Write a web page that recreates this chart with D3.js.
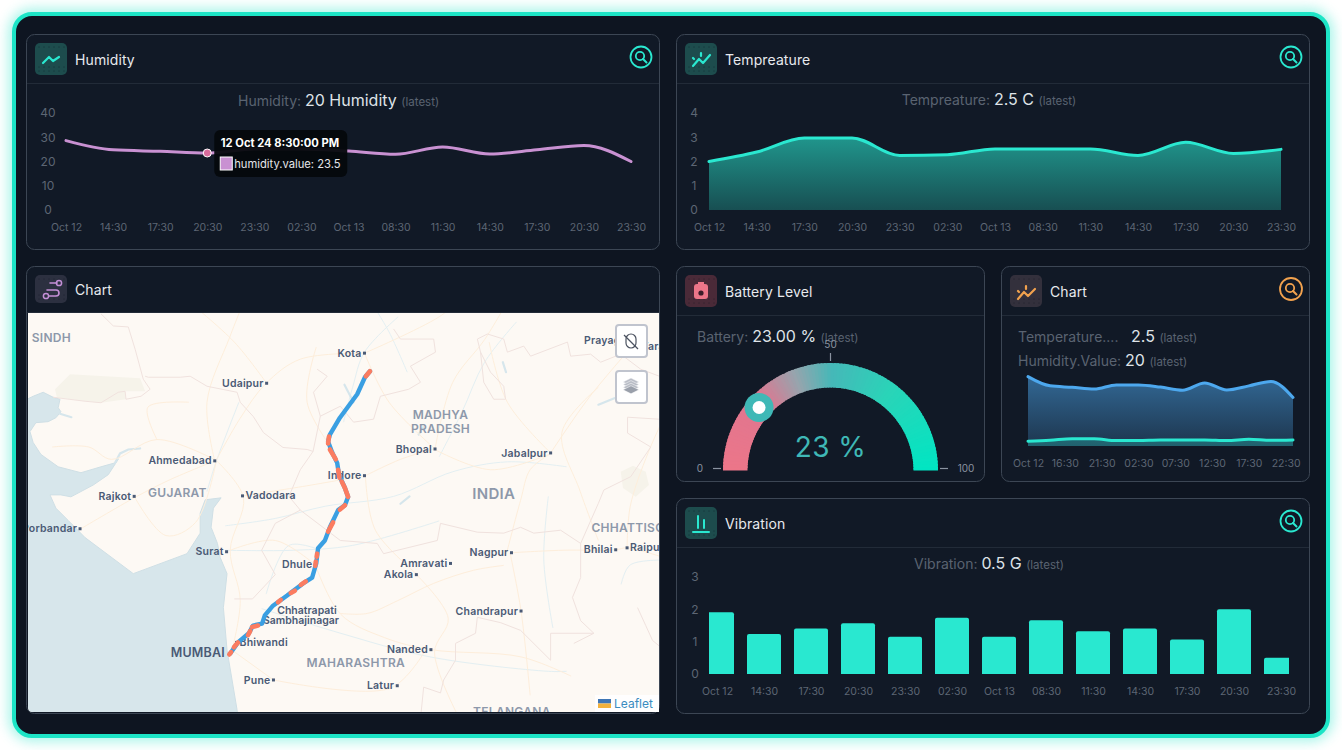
<!DOCTYPE html>
<html>
<head>
<meta charset="utf-8">
<script src="https://cdn.jsdelivr.net/npm/d3@7"></script>
<style>
  html, body { margin: 0; padding: 0; background: #fff; overflow: hidden; }
  #frame { position: absolute; left: 12px; top: 12px; width: 1310px; height: 718px; border: 4px solid #1ce5c6;
    border-radius: 20px; background: #0e1521; box-shadow: 0 0 12px 4px rgba(40,230,200,.38); }
  svg { position: absolute; left: 0; top: 0; font-family: Inter, "Noto Sans", sans-serif; }
</style>
</head>
<body>
<div id="frame"></div>
<svg id="page" width="1342" height="750"></svg>
<script>
'use strict';
// time axis shared by the three upper charts
const timeLabels = ["Oct 12", "14:30", "17:30", "20:30", "23:30", "02:30", "Oct 13", "08:30", "11:30", "14:30", "17:30", "20:30", "23:30"];
const hours = [0, 3, 6, 9, 12, 15, 18, 21, 24, 27, 30, 33, 36];
const humidity = [28.6, 24.8, 24.2, 23.5, 25.2, 25.2, 24.3, 23, 26, 23.1, 24.8, 26.6, 20];
const temperature = [2, 2.39, 2.97, 2.97, 2.25, 2.28, 2.52, 2.52, 2.52, 2.25, 2.79, 2.33, 2.5];
const vibration = [1.91, 1.24, 1.41, 1.57, 1.15, 1.74, 1.15, 1.66, 1.32, 1.41, 1.07, 2, 0.5];
const comboTickHours = [0, 5, 10, 15, 20, 25, 30, 35];
const comboTickLabels = ["Oct 12", "16:30", "21:30", "02:30", "07:30", "12:30", "17:30", "22:30"];
const batteryValue = 23;

// map: everything is lon/lat, drawn through the mercator projection below
const seaCoast = [[68.2,24.15],[68.58,24.32],[68.80,24.40],[69.02,24.30],[69.17,24.26],[69.13,24.09],[69.19,24.01],[69.08,23.89],[68.91,23.81],[68.64,23.79],[68.51,23.61],[68.58,23.39],[68.75,23.15],[69.13,22.90],[69.63,22.78],[70.07,22.90],[70.38,22.98],[70.45,23.05],[70.23,22.74],[69.90,22.53],[69.41,22.29],[69.19,22.33],[68.95,22.33],[69.08,22.06],[69.35,21.81],[69.72,21.46],[70.78,20.72],[71.96,21.13],[72.25,21.55],[72.25,21.96],[72.36,22.23],[72.71,22.27],[72.54,22.06],[72.49,21.67],[72.63,21.34],[72.69,21.05],[72.84,20.72],[72.76,20.02],[72.84,19.14],[73.06,17.90],[73.1,17.5],[68.2,17.5]];
const beigeAreas = [
  [[69.06,24.46],[69.39,24.76],[70.93,24.68],[71.04,24.42],[70.6,24.42],[70.62,24.26],[70.07,24.19],[69.72,24.22],[69.10,24.30]],
  [[81.49,22.80],[81.76,22.92],[82.04,22.80],[82.11,22.53],[81.82,22.29],[81.54,22.47]]
];
const borders = [
  [[70.07,25.96],[70.34,25.72],[70.67,25.70],[70.82,25.26],[71.0,24.66],[71.15,24.46],[70.95,24.32],[70.62,24.26],[70.6,24.42],[70.45,24.40],[70.07,24.19],[69.72,24.22],[69.02,24.30]],
  [[71.04,24.72],[71.11,24.70],[71.81,24.70],[72.03,24.72],[72.40,24.52],[73.06,24.40],[73.13,24.20],[73.42,23.91],[73.64,23.59],[74.07,23.29],[74.60,23.25],[74.73,23.21],[74.45,22.84],[74.2,22.3],[74.45,22.02],[75.33,21.40],[76.14,21.34],[76.28,21.13],[77.46,21.40],[77.53,21.75],[78.34,21.57],[78.92,21.55],[79.29,21.67],[79.58,21.55],[80.17,21.61],[80.61,21.34],[80.61,20.64],[80.43,20.23],[80.61,19.75],[80.90,19.49],[80.46,19.28]],
  [[80.90,19.49],[79.95,19.49],[79.95,18.93],[79.29,19.55],[78.85,19.71],[78.34,19.82],[78.30,19.49],[77.86,19.28],[77.86,18.93],[77.60,18.52],[77.53,18.25],[77.16,18.37],[77.09,17.7]],
  [[74.45,22.02],[73.9,21.75],[73.6,21.2],[73.9,20.7],[73.4,20.2],[73.0,20.2]],
  [[80.61,21.34],[81.0,22.16],[81.12,22.43],[81.71,22.70],[82.15,23.30],[81.64,23.58],[81.64,23.90],[82.5,23.85]],
  [[81.86,20.02],[82.04,19.65],[82.19,19.34],[82.5,19.1]],
  [[78.34,25.46],[78.56,25.56],[78.92,25.46],[79.0,25.20],[79.36,25.32],[79.51,25.12],[80.32,25.40],[80.39,25.12],[80.83,25.16],[81.05,25.0],[81.49,25.16],[81.93,24.86],[82.4,24.7]],
  [[78.34,25.46],[78.41,25.20],[78.63,24.80],[78.92,24.52],[78.96,24.26],[78.70,24.26],[78.48,24.60],[78.41,25.20]],
  [[76.50,25.66],[76.65,25.46],[77.38,25.46],[77.42,25.20],[76.87,24.92],[77.09,24.60],[76.83,24.46],[76.21,24.32],[76.06,23.86],[75.62,23.80],[75.33,24.12],[74.89,23.92],[74.74,24.40],[75.04,24.72],[74.82,24.86]],
  [[74.89,23.92],[74.73,23.21]]
];
const roads = [
  [[75.33,19.90],[75.92,19.90],[76.58,20.16],[77.38,20.52],[78.26,20.79],[78.92,20.89]],
  [[78.98,21.13],[79.29,22.22],[79.50,22.84],[79.91,23.14]],
  [[72.60,23.03],[73.20,22.28],[72.91,21.20],[73.13,20.17],[72.95,19.14]],
  [[72.60,23.03],[73.13,23.88],[73.70,24.58],[74.45,25.06],[75.86,25.18]],
  [[72.60,23.03],[71.59,22.64],[70.84,22.29],[69.61,21.63]],
  [[77.38,23.26],[76.65,23.05],[75.88,22.72]],
  [[77.38,23.26],[78.63,22.84],[79.91,23.15]],
  [[75.88,22.72],[76.10,21.61],[77.05,20.68]],
  [[73.86,18.52],[72.95,19.14]],
  [[73.86,18.52],[76.43,18.35],[77.20,19.14]],
  [[79.06,21.14],[79.30,19.95],[79.5,18.2]],
  [[79.09,21.15],[80.2,21.2],[81.38,21.21],[81.63,21.25],[82.6,21.0]],
  [[81.63,21.25],[81.7,22.1],[82.1,23.2],[82.6,24.2]],
  [[79.95,23.18],[80.8,24.3],[81.85,25.43]],
  [[75.86,25.18],[77.5,25.9],[78.18,26.4]],
  [[77.41,23.26],[77.8,24.6],[78.5,25.45],[79.0,26.2]],
  [[74.78,20.90],[75.34,19.88],[76.3,19.4],[77.32,19.15],[79.3,19.0],[80.4,18.6]],
  [[73.71,24.58],[73.0,25.4],[72.0,26.2]],
  [[72.57,23.02],[72.4,24.2],[72.9,25.5],[73.3,26.4]],
  [[73.18,22.31],[74.5,22.5],[75.86,22.72]],
  [[70.80,22.30],[71.5,21.5],[72.15,21.77],[72.6,23.0]],
  [[75.86,25.18],[76.4,24.2],[77.41,23.26]],
  [[74.78,20.90],[73.9,21.4],[72.91,21.20]],
  [[79.95,23.18],[79.0,24.2],[78.6,25.4]],
  [[81.0,24.5],[80.2,23.6],[80.6,22.4],[81.0,21.4]],
  [[77.0,20.7],[77.7,19.8],[77.4,19.1],[77.9,17.8]],
  [[74.8,25.3],[74.6,24.2],[75.2,23.2]],
  [[69.0,23.3],[69.8,23.3],[70.3,23.05],[71.3,23.45],[72.6,23.03]],
  [[71.3,23.45],[71.1,24.1],[72.0,24.2]]
];
const rivers = [
  [[72.8,21.7],[73.9,21.85],[75.0,22.1],[76.5,22.3],[77.8,22.8],[79.0,23.0],[80.3,22.9]],
  [[75.4,23.8],[75.6,24.5],[75.86,25.2],[76.6,25.9]],
  [[72.8,21.2],[74.3,21.2],[75.6,21.3],[77.5,21.8]],
  [[73.6,20.0],[75.3,19.5],[77.3,19.0],[79.9,18.7],[80.3,18.7]],
  [[77.5,23.1],[78.0,24],[78.5,25.0],[79.2,25.8]],
  [[82.6,21.0],[81.7,20.9],[81.5,20.5]],
  [[79.9,22.3],[79.8,21.0],[80.0,19.6]],
  [[72.4,22.4],[72.6,23.0],[73.1,24.2]],
  [[76.8,24.8],[76.4,25.6],[76.0,26.2]],
  [[73.7,20.3],[74.2,21.3],[74.9,21.2]]
];
const lakes = [
  [[81.0,24.15],[81.35,24.28]],
  [[75.42,24.55],[75.62,24.2]],
  [[77.05,23.55],[77.15,23.7]],
  [[78.9,25.0],[78.97,24.8]],
  [[69.17,23.97],[69.42,23.9]],
  [[70.38,22.98],[70.49,23.17],[70.67,23.25],[70.93,23.27]],
  [[76.65,22.15],[76.85,22.3]]
];
const route = [[75.98,24.82],[75.87,24.70],[75.70,24.36],[75.32,23.89],[75.10,23.55],[75.06,23.41],[75.15,23.19],[75.26,22.98],[75.30,22.74],[75.43,22.47],[75.50,22.29],[75.43,22.12],[75.28,22.02],[75.10,21.67],[74.99,21.40],[74.84,21.24],[74.80,20.93],[74.71,20.64],[74.51,20.52],[74.16,20.27],[73.85,20.06],[73.67,19.86],[73.61,19.69],[73.41,19.65],[73.32,19.49],[73.08,19.30],[72.91,19.07]];
const routeAlerts = [
  [[75.98,24.82],[75.89,24.72]], [[75.08,23.51],[75.06,23.37]], [[75.10,23.25],[75.23,23.05]],
  [[75.28,22.84],[75.31,22.68]], [[75.36,22.60],[75.43,22.47],[75.50,22.29]], [[75.43,22.12],[75.32,22.03]],
  [[75.17,21.77],[75.06,21.58]], [[74.82,21.13],[74.81,21.07]], [[74.79,20.97],[74.78,20.88]],
  [[74.57,20.56],[74.46,20.49]], [[74.33,20.37],[74.24,20.32]], [[74.02,20.18],[73.96,20.13]],
  [[73.52,19.65],[73.39,19.62]], [[73.35,19.54],[73.30,19.45]], [[73.08,19.30],[72.99,19.20]], [[72.93,19.10],[72.89,19.05]]
];
const cities = [
  ["Kota",75.86,25.18,"l"],["Udaipur",73.71,24.58,"l"],["Ahmedabad",72.57,23.02,"l"],["Rajkot",70.80,22.30,"l"],
  ["Vadodara",73.18,22.31,"r"],["Porbandar",69.61,21.64,"l"],["Surat",72.83,21.17,"l"],["Dhule",74.78,20.90,"l"],
  ["Bhiwandi",73.05,19.30,"r"],["Pune",73.86,18.52,"l"],["Nanded",77.32,19.15,"l"],["Latur",76.58,18.40,"l"],
  ["Akola",77.00,20.70,"l"],["Amravati",77.75,20.93,"l"],["Nagpur",79.09,21.15,"l"],["Chandrapur",79.30,19.95,"l"],
  ["Bhilai",81.38,21.21,"l"],["Raipur",81.63,21.25,"r"],["Jabalpur",79.95,23.18,"l"],["Bhopal",77.41,23.26,"l"],
  ["Indore",75.86,22.72,"l"],["Prayagraj",81.85,25.43,"l"],["Varanasi",83.0,25.32,"l"]
];
const regions = [
  ["SINDH",68.98,25.40],["GUJARAT",71.75,22.29],["INDIA",78.7,22.25],["MADHYA",77.53,23.87],["PRADESH",77.53,23.59],
  ["MAHARASHTRA",75.67,18.79],["CHHATTISG",81.65,21.58],["TELANGANA",79.1,17.76]
];

const svg = d3.select("#page");
const defs = svg.append("defs");
const axisColor = "#5d6674";

function vGradient(id, c, from, to) {
  const g = defs.append("linearGradient").attr("id", id).attr("x1", 0).attr("x2", 0).attr("y1", 0).attr("y2", 1);
  g.append("stop").attr("offset", "0").attr("stop-color", c).attr("stop-opacity", from);
  g.append("stop").attr("offset", "1").attr("stop-color", c).attr("stop-opacity", to);
}
vGradient("tealFill", "#2ae8d0", 0.6, 0.26);
vGradient("blueFill", "#4da8ee", 0.55, 0.2);

function card(x, y, w, h, headerH, title, iconFill, iconH) {
  svg.append("rect").attr("x", x + .5).attr("y", y + .5).attr("width", w).attr("height", h).attr("rx", 8)
    .attr("fill", "#111926").attr("stroke", "#3c4654");
  svg.append("line").attr("x1", x + 1).attr("x2", x + w).attr("y1", y + headerH + .5).attr("y2", y + headerH + .5).attr("stroke", "#222b38");
  svg.append("rect").attr("x", x + 9).attr("y", y + 9).attr("width", 32).attr("height", iconH || 32).attr("rx", 5).attr("fill", iconFill);
  // dotted texture of the icon tiles
  d3.range(6).forEach(i => [4, (iconH || 32) - 8, (iconH || 32) - 4].forEach(dy => {
    svg.append("circle").attr("cx", x + 13 + i * 5).attr("cy", y + 9 + dy).attr("r", .5).attr("fill", "#0e1521").attr("fill-opacity", .7);
  }));
  svg.append("text").attr("x", x + 49).attr("y", y + 31 - (iconH ? 2 : 0)).attr("fill", "#e8eaee")
    .attr("font-size", 14).attr("font-weight", 400).attr("letter-spacing", .1).text(title);
}

function searchIcon(cx, cy, color, r) {
  const g = svg.append("g").attr("fill", "none").attr("stroke", color);
  g.append("circle").attr("cx", cx).attr("cy", cy).attr("r", r).attr("stroke-width", 1.8);
  g.append("circle").attr("cx", cx - 1).attr("cy", cy - 1).attr("r", 4.2).attr("stroke-width", 1.8);
  g.append("line").attr("x1", cx + 2).attr("y1", cy + 2).attr("x2", cx + 5.5).attr("y2", cy + 5.5).attr("stroke-width", 2).attr("stroke-linecap", "round");
}

function summary(x, y, anchor, label, value, suffix) {
  const t = svg.append("text").attr("x", x).attr("y", y).attr("text-anchor", anchor);
  t.append("tspan").attr("fill", "#5a6371").attr("font-size", 14).text(label + " ");
  t.append("tspan").attr("fill", "#dfe3e8").attr("font-size", 16).text(value + " ");
  t.append("tspan").attr("fill", "#5a6371").attr("font-size", 11.5).text(suffix);
}

function bottomAxis(scale, values, labels, y) {
  const axis = d3.axisBottom(scale).tickValues(values).tickSize(0).tickPadding(0).tickFormat((d, i) => labels[i]);
  const g = svg.append("g").attr("transform", `translate(0,${y})`).call(axis);
  g.select(".domain").remove();
  g.selectAll("text").attr("fill", axisColor).attr("font-size", 10.5).attr("font-family", "Inter").attr("dy", 0).attr("y", 0);
}

function leftAxis(scale, ticks, x) {
  const axis = d3.axisLeft(scale).tickValues(ticks).tickSize(0).tickPadding(0).tickFormat(d3.format("d"));
  const g = svg.append("g").attr("transform", `translate(${x},0)`).call(axis);
  g.select(".domain").remove();
  g.selectAll("text").attr("fill", axisColor).attr("font-size", 12).attr("font-family", "Inter").attr("text-anchor", "middle");
}

/* ---------- frame of cards ---------- */
card(26, 34, 633, 215, 49, "Humidity", "#1d4c4d");
card(676, 34, 633, 215, 49, "Tempreature", "#1d4c4d");
card(26, 266, 633, 447, 46, "Chart", "#2c3040", 28);
card(676, 266, 308, 215, 49, "Battery Level", "#4a2a38");
card(1001, 266, 308, 215, 49, "Chart", "#33303c");
card(676, 498, 633, 215, 49, "Vibration", "#1d4c4d");
searchIcon(641, 57, "#2ae8d0", 10.5);
searchIcon(1291, 57, "#2ae8d0", 10.5);
searchIcon(1291, 289, "#f2a24e", 11);
searchIcon(1291, 521, "#2ae8d0", 10.5);

// header glyphs
const glyph = (d, color, w) => svg.append("path").attr("d", d).attr("fill", "none").attr("stroke", color)
  .attr("stroke-width", w || 2).attr("stroke-linecap", "round").attr("stroke-linejoin", "round");
glyph("M43 63 L49 57 L53 61 L59 57", "#2ae8d0", 2.2);
glyph("M693 66 L699 59 L703 63 L710 55 M693 58 L694 59 M701 53 L701 56", "#2ae8d0", 2.2);
glyph("M693 532 H709 M698 516 V528 M704 520 V528", "#2ae8d0");
glyph("M1018 299 L1024 292 L1028 296 L1035 289 M1018 291 L1019 292 M1026 286 L1026 289", "#f2a24e", 2.2);
glyph("M50 283 H57 M47 290 H56 a3 3 0 0 1 0 6 H49", "#c48fd6", 1.6);
svg.append("circle").attr("cx", 59).attr("cy", 283).attr("r", 2.6).attr("fill", "none").attr("stroke", "#c48fd6").attr("stroke-width", 1.5);
svg.append("circle").attr("cx", 46).attr("cy", 296).attr("r", 2.6).attr("fill", "none").attr("stroke", "#c48fd6").attr("stroke-width", 1.5);
svg.append("rect").attr("x", 694).attr("y", 284).attr("width", 14).attr("height", 15).attr("rx", 3).attr("fill", "#ec7689");
svg.append("rect").attr("x", 698).attr("y", 282).attr("width", 6).attr("height", 3).attr("fill", "#ec7689");
svg.append("circle").attr("cx", 701).attr("cy", 293).attr("r", 2.6).attr("fill", "#3a1c28");

/* ---------- humidity ---------- */
const xHum = d3.scalePoint().domain(d3.range(hours.length)).range([66, 631]);
const yHum = d3.scaleLinear().domain([0, 40]).range([210, 113]);
summary(338.6, 106, "middle", "Humidity:", "20 Humidity", "(latest)");
leftAxis(yHum, [0, 10, 20, 30, 40], 48);
bottomAxis(xHum, d3.range(hours.length), timeLabels, 231);
svg.append("path").datum(humidity)
  .attr("d", d3.line().x((d, i) => xHum(i)).y(d => yHum(d)).curve(d3.curveMonotoneX))
  .attr("fill", "none").attr("stroke", "#c991d2").attr("stroke-width", 3).attr("stroke-linecap", "round");
svg.append("circle").attr("cx", xHum(3)).attr("cy", yHum(humidity[3])).attr("r", 4)
  .attr("fill", "#d96b9c").attr("stroke", "#fff").attr("stroke-width", 1);
// tooltip on the 20:30 point
const tip = svg.append("g").attr("transform", `translate(${xHum(3) + 7},130)`);
tip.append("rect").attr("width", 133).attr("height", 47).attr("rx", 6).attr("fill", "#05080c").attr("fill-opacity", .95);
tip.append("text").attr("x", 6.5).attr("y", 17).attr("fill", "#fff").attr("font-size", 11.2).attr("font-weight", 700).text("12 Oct 24 8:30:00 PM");
tip.append("rect").attr("x", 6).attr("y", 27).attr("width", 12).attr("height", 13).attr("fill", "#c991d2").attr("stroke", "#fff").attr("stroke-width", 1);
tip.append("text").attr("x", 20).attr("y", 38).attr("fill", "#e4e6e9").attr("font-size", 11.2).text("humidity.value: 23.5");

/* ---------- temperature ---------- */
const xTemp = d3.scalePoint().domain(d3.range(hours.length)).range([709, 1281]);
const yTemp = d3.scaleLinear().domain([0, 4]).range([210, 113]);
summary(989, 105, "middle", "Tempreature:", "2.5 C", "(latest)");
leftAxis(yTemp, [0, 1, 2, 3, 4], 694);
bottomAxis(xTemp, d3.range(hours.length), timeLabels, 231);
svg.append("path").datum(temperature)
  .attr("d", d3.area().x((d, i) => xTemp(i)).y0(yTemp(0)).y1(d => yTemp(d)).curve(d3.curveMonotoneX))
  .attr("fill", "url(#tealFill)");
svg.append("path").datum(temperature)
  .attr("d", d3.line().x((d, i) => xTemp(i)).y(d => yTemp(d)).curve(d3.curveMonotoneX))
  .attr("fill", "none").attr("stroke", "#2ae8d0").attr("stroke-width", 3).attr("stroke-linecap", "round");

/* ---------- combined chart ---------- */
const xCombo = d3.scaleLinear().domain([0, 36]).range([1028, 1293]);
const yCombo = d3.scaleLinear().domain([0, 40]).range([446, 349]);
summary(1018, 342, "start", "Temperature....", "", "");
summary(1131, 342, "start", "", "2.5", "(latest)");
summary(1018, 366, "start", "Humidity.Value:", "20", "(latest)");
bottomAxis(xCombo, comboTickHours, comboTickLabels, 467);
svg.append("path").datum(humidity)
  .attr("d", d3.area().x((d, i) => xCombo(hours[i])).y0(yCombo(0)).y1(d => yCombo(d)).curve(d3.curveMonotoneX))
  .attr("fill", "url(#blueFill)");
svg.append("path").datum(temperature)
  .attr("d", d3.area().x((d, i) => xCombo(hours[i])).y0(yCombo(0)).y1(d => yCombo(d)).curve(d3.curveMonotoneX))
  .attr("fill", "#2ae8d0").attr("fill-opacity", .25);
[[humidity, "#4da8ee"], [temperature, "#2ae8d0"]].forEach(([values, color]) => {
  svg.append("path").datum(values)
    .attr("d", d3.line().x((d, i) => xCombo(hours[i])).y(d => yCombo(d)).curve(d3.curveMonotoneX))
    .attr("fill", "none").attr("stroke", color).attr("stroke-width", 3).attr("stroke-linecap", "round");
});

/* ---------- vibration ---------- */
const xVib = d3.scalePoint().domain(d3.range(vibration.length)).range([717, 1281]);
const yVib = d3.scaleLinear().domain([0, 3]).range([674, 577]);
summary(989, 569, "middle", "Vibration:", "0.5 G", "(latest)");
leftAxis(yVib, [0, 1, 2, 3], 695);
bottomAxis(xVib, d3.range(vibration.length), timeLabels, 695);
defs.append("clipPath").attr("id", "vibClip").append("rect").attr("x", 709).attr("y", 570).attr("width", 580).attr("height", 110);
svg.append("g").attr("clip-path", "url(#vibClip)").selectAll("path").data(vibration).join("path")
  .attr("fill", "#29e8d0")
  .attr("d", (d, i) => {
    const w = 34, l = xVib(i) - w / 2, t = yVib(d), b = yVib(0), r = 2;
    return `M${l} ${b} V${t + r} Q${l} ${t} ${l + r} ${t} H${l + w - r} Q${l + w} ${t} ${l + w} ${t + r} V${b} Z`;
  });

/* ---------- battery gauge ---------- */
summary(697, 342, "start", "Battery:", "23.00 %", "(latest)");
const gaugeCx = 830.5, gaugeCy = 470.5, gaugeOuter = 107.5, gaugeInner = 83;
const gaugeAngle = d3.scaleLinear().domain([0, 100]).range([-Math.PI / 2, Math.PI / 2]);
const gaugeColor = d3.scaleLinear().domain([0, 25, 38, 50, 70, 100])
  .range(["#ec7689", "#df7690", "#98a4ad", "#45b8b8", "#2ad4b8", "#00e6c3"]);
const gauge = svg.append("g").attr("transform", `translate(${gaugeCx},${gaugeCy})`);
const arc = d3.arc().innerRadius(gaugeInner).outerRadius(gaugeOuter);
// later slices overlap the earlier ones so no seams show between them
gauge.selectAll("path").data(d3.range(0, 100)).join("path")
  .attr("d", d => arc({ startAngle: gaugeAngle(d), endAngle: gaugeAngle(Math.min(d + 1.6, 100)) }))
  .attr("fill", d => gaugeColor(d));
const thumbAt = (r, v) => [r * Math.sin(gaugeAngle(v)), -r * Math.cos(gaugeAngle(v))];
const [tx, ty] = thumbAt((gaugeOuter + gaugeInner) / 2, batteryValue);
gauge.append("circle").attr("cx", tx).attr("cy", ty).attr("r", 14.5).attr("fill", "#3fb8b6");
gauge.append("circle").attr("cx", tx).attr("cy", ty).attr("r", 6.5).attr("fill", "#fff");
[[0, 23], [50, 15], [100, 28]].forEach(([v, pad]) => {
  const lift = v === 50 ? 0 : 2;
  const [x1, y1] = thumbAt(gaugeOuter + 2, v), [x2, y2] = thumbAt(gaugeOuter + 10, v);
  gauge.append("line").attr("x1", x1).attr("y1", y1 - lift).attr("x2", x2).attr("y2", y2 - lift).attr("stroke", "#8a93a0").attr("stroke-width", 1.2);
  const [lx, ly] = thumbAt(gaugeOuter + pad, v);
  gauge.append("text").attr("x", lx).attr("y", ly + (v === 50 ? 0 : 1)).attr("text-anchor", "middle").attr("fill", "#8a93a0").attr("font-size", 10).text(v);
});
gauge.append("text").attr("x", 0).attr("y", -14).attr("text-anchor", "middle").attr("fill", "#3fb8b6")
  .attr("font-size", 28).attr("letter-spacing", .5).text(batteryValue + " %");

/* ---------- map ---------- */
const projection = d3.geoMercator().scale(2607.6).translate([-3088, 1537.9]);
const geoLine = d3.line().x(d => projection(d)[0]).y(d => projection(d)[1]);
const smoothLine = d3.line().x(d => projection(d)[0]).y(d => projection(d)[1]).curve(d3.curveCatmullRom);
defs.append("clipPath").attr("id", "mapClip").append("path").attr("d", "M28 313 H659 V712 H33 Q28 712 28 707 Z");
const map = svg.append("g").attr("clip-path", "url(#mapClip)");
map.append("rect").attr("x", 28).attr("y", 313).attr("width", 631).attr("height", 399).attr("fill", "#fdf9f4");
map.selectAll(".beige").data(beigeAreas).join("path").attr("class", "beige").attr("d", d => geoLine(d) + "Z").attr("fill", "#f6f3ea");
map.append("path").attr("d", geoLine(seaCoast) + "Z").attr("fill", "#d7e6eb").attr("stroke", "#cfdfe5").attr("stroke-width", 1);
map.selectAll(".river").data(rivers).join("path").attr("class", "river").attr("d", smoothLine)
  .attr("fill", "none").attr("stroke", "#e3eff2").attr("stroke-width", 1);
map.selectAll(".lake").data(lakes).join("path").attr("class", "lake").attr("d", geoLine)
  .attr("fill", "none").attr("stroke", "#d6e6ec").attr("stroke-width", 2.2).attr("stroke-linecap", "round");
map.selectAll(".road").data(roads).join("path").attr("class", "road").attr("d", smoothLine)
  .attr("fill", "none").attr("stroke", "#fdeedb").attr("stroke-width", 1);
map.selectAll(".border").data(borders).join("path").attr("class", "border").attr("d", geoLine)
  .attr("fill", "none").attr("stroke", "#f0e2de").attr("stroke-width", 1);

const labelFont = "Inter, Lato, sans-serif";
regions.forEach(([name, lon, lat]) => {
  const [x, y] = projection([lon, lat]);
  map.append("text").attr("x", x).attr("y", y).attr("text-anchor", "middle").attr("fill", "#8d98aa")
    .attr("font-family", labelFont).attr("font-weight", 600).attr("letter-spacing", .3)
    .attr("font-size", name === "INDIA" ? 15 : 12).text(name);
});
cities.forEach(([name, lon, lat, side]) => {
  const [x, y] = projection([lon, lat]);
  map.append("rect").attr("x", x - 1.5).attr("y", y - 1.5).attr("width", 3).attr("height", 3).attr("fill", "#4a5a75");
  map.append("text").attr("x", side === "l" ? x - 3 : x + 3).attr("y", y + 3.6)
    .attr("text-anchor", side === "l" ? "end" : "start").attr("fill", "#4a5a75")
    .attr("font-family", labelFont).attr("font-weight", 600).attr("font-size", 10.5).attr("letter-spacing", .2).text(name);
});
map.append("text").attr("x", 307).attr("y", 614).attr("text-anchor", "middle").attr("fill", "#4a5a75")
  .attr("font-family", labelFont).attr("font-weight", 600).attr("font-size", 10.5).text("Chhatrapati");
map.append("text").attr("x", 301).attr("y", 624).attr("text-anchor", "middle").attr("fill", "#4a5a75")
  .attr("font-family", labelFont).attr("font-weight", 600).attr("font-size", 10.5).text("Sambhajinagar");
map.append("text").attr("x", 225).attr("y", 657).attr("text-anchor", "end").attr("fill", "#4a5a75")
  .attr("font-family", labelFont).attr("font-weight", 600).attr("font-size", 12.5).attr("letter-spacing", .2).text("MUMBAI");

// route with the alert stretches on top
map.append("path").attr("d", geoLine(route)).attr("fill", "none").attr("stroke", "#3a9fe2")
  .attr("stroke-width", 4.4).attr("stroke-linejoin", "round").attr("stroke-linecap", "round");
map.selectAll(".alert").data(routeAlerts).join("path").attr("class", "alert").attr("d", geoLine)
  .attr("fill", "none").attr("stroke", "#fb7c60").attr("stroke-width", 4.6).attr("stroke-linecap", "round");

// leaflet controls
[[615, 324], [615, 370]].forEach(([x, y]) => {
  map.append("rect").attr("x", x + 1).attr("y", y + 1).attr("width", 31).attr("height", 32).attr("rx", 3)
    .attr("fill", "#fff").attr("stroke", "#c0c4ce").attr("stroke-width", 2);
});
const mouse = map.append("g").attr("fill", "none").attr("stroke", "#4b5260").attr("stroke-width", 1.2);
mouse.append("rect").attr("x", 626).attr("y", 334).attr("width", 10).attr("height", 14).attr("rx", 5);
mouse.append("line").attr("x1", 624).attr("y1", 335).attr("x2", 638).attr("y2", 349);
[0, 1, 2, 3].forEach(i => {
  map.append("path").attr("d", `M631 ${378 + i * 2.6} l8 4 l-8 4 l-8 -4 Z`).attr("fill", i === 3 ? "#9aa0ab" : "#b9bdc6").attr("stroke", "#fff").attr("stroke-width", .5);
});
map.append("rect").attr("x", 595).attr("y", 695).attr("width", 64).attr("height", 17).attr("fill", "#fff").attr("fill-opacity", .85);
map.append("rect").attr("x", 598).attr("y", 699).attr("width", 13).attr("height", 4.5).attr("fill", "#3f76b5");
map.append("rect").attr("x", 598).attr("y", 703.5).attr("width", 13).attr("height", 4.5).attr("fill", "#f3b23c");
map.append("text").attr("x", 614).attr("y", 708).attr("fill", "#3a8cc0").attr("font-size", 12).text("Leaflet");
</script>
</body>
</html>
